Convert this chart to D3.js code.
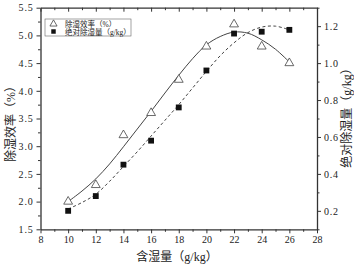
<!DOCTYPE html>
<html>
<head>
<meta charset="utf-8">
<script src="https://cdn.jsdelivr.net/npm/d3@7"></script>
<style>
  body { margin: 0; background: #fff; }
  svg text { font-family: "Liberation Serif", "DejaVu Serif", "Noto Sans CJK SC", serif; fill: #222; }
</style>
</head>
<body>
<div id="container"></div>
<script>
// measured points
const moisture = [10, 12, 14, 16, 18, 20, 22, 24, 26];
const efficiency = [2.0, 2.3, 3.2, 3.6, 4.2, 4.8, 5.2, 4.8, 4.5];
const absRemoval = [0.2, 0.28, 0.45, 0.58, 0.76, 0.96, 1.16, 1.17, 1.18];

// fitted curves
const fitX = [10, 11, 12, 13, 14, 15, 16, 17, 18, 19, 20, 21, 22, 23, 24, 25, 26];
const fitEff = [2.0, 2.19, 2.41, 2.68, 2.99, 3.31, 3.63, 3.96, 4.28, 4.58, 4.83, 4.98, 5.06, 5.04, 4.92, 4.75, 4.52];
const fitAbs = [0.21, 0.245, 0.29, 0.36, 0.44, 0.52, 0.605, 0.69, 0.775, 0.865, 0.955, 1.04, 1.11, 1.165, 1.195, 1.20, 1.18];

const xTicks = [8, 10, 12, 14, 16, 18, 20, 22, 24, 26, 28];
const yLeftTicks = [1.5, 2.0, 2.5, 3.0, 3.5, 4.0, 4.5, 5.0, 5.5];
const yRightTicks = [0.2, 0.4, 0.6, 0.8, 1.0, 1.2];

const legendLabels = ["除湿效率（%）", "绝对除湿量（g/kg）"];
const xTitle = "含湿量（g/kg）";
const yLeftTitle = "除湿效率（%）";
const yRightTitle = "绝对除湿量（g/kg）";

const W = 354, H = 265;
const m = {left: 40.5, right: 37, top: 7.7, bottom: 35.7};

const svg = d3.select("#container").append("svg")
    .attr("width", W)
    .attr("height", H);

var x = d3.scaleLinear().domain([8, 28]).range([m.left, W - m.right]);
var yL = d3.scaleLinear().domain([1.5, 5.5]).range([H - m.bottom, m.top]);
var yR = d3.scaleLinear().domain([0.1, 1.3]).range([H - m.bottom, m.top]);

const axisCol = "#333";

function styleAxis(g) {
    g.select(".domain").attr("stroke", axisCol).attr("stroke-width", 1.3);
    g.selectAll(".tick line").attr("stroke", axisCol);
    g.selectAll("text").attr("font-size", 10).attr("fill", "#333");
}

// minor ticks
function minor(g, axis) {
    g.call(axis);
    g.select(".domain").remove();
    g.selectAll("text").remove();
    g.selectAll("line").attr("stroke", axisCol);
}

var xMinor = d3.range(9, 28, 2);
var yLMinor = d3.range(1.75, 5.5, 0.5);
var yRMinor = d3.range(0.1, 1.31, 0.2);

svg.append("g").attr("transform", `translate(0,${H - m.bottom})`)
    .call(g => minor(g, d3.axisBottom(x).tickValues(xMinor).tickSize(2.5)));
svg.append("g").attr("transform", `translate(0,${m.top})`)
    .call(g => minor(g, d3.axisBottom(x).tickValues(xMinor).tickSize(2.5)));
svg.append("g").attr("transform", `translate(${m.left},0)`)
    .call(g => minor(g, d3.axisLeft(yL).tickValues(yLMinor).tickSize(2.5)));
svg.append("g").attr("transform", `translate(${W - m.right},0)`)
    .call(g => minor(g, d3.axisRight(yR).tickValues(yRMinor).tickSize(2.5)));

svg.append("g").attr("transform", `translate(0,${H - m.bottom})`)
    .call(d3.axisBottom(x).tickValues(xTicks).tickSize(4).tickSizeOuter(0).tickPadding(3))
    .call(styleAxis);

var topAxis = svg.append("g").attr("transform", `translate(0,${m.top})`)
    .call(d3.axisBottom(x).tickValues(xTicks).tickSize(4).tickSizeOuter(0))
    .call(styleAxis);
topAxis.selectAll("text").remove();

svg.append("g").attr("transform", `translate(${m.left},0)`)
    .call(d3.axisLeft(yL).tickValues(yLeftTicks).tickSize(4).tickSizeOuter(0).tickPadding(3).tickFormat(d3.format(".1f")))
    .call(styleAxis)
    .selectAll("text").attr("letter-spacing", 0.8);

svg.append("g").attr("transform", `translate(${W - m.right},0)`)
    .call(d3.axisRight(yR).tickValues(yRightTicks).tickSize(4).tickSizeOuter(0).tickPadding(3).tickFormat(d3.format(".1f")))
    .call(styleAxis)
    .selectAll("text").attr("letter-spacing", 0.8);

// fitted curves
svg.append("path")
    .datum(fitX.map((d, i) => [d, fitEff[i]]))
    .attr("fill", "none")
    .attr("stroke", "#444")
    .attr("stroke-width", 1)
    .attr("d", d3.line().curve(d3.curveCatmullRom).x(d => x(d[0])).y(d => yL(d[1])));

svg.append("path")
    .datum(fitX.map((d, i) => [d, fitAbs[i]]))
    .attr("fill", "none")
    .attr("stroke", "#444")
    .attr("stroke-width", 1)
    .attr("stroke-dasharray", "3,2.5")
    .attr("d", d3.line().curve(d3.curveCatmullRom).x(d => x(d[0])).y(d => yR(d[1])));

var tri = d3.symbol().type(d3.symbolTriangle).size(34);
var sq = d3.symbol().type(d3.symbolSquare).size(34);

svg.selectAll(".tri").data(moisture).join("path")
    .attr("class", "tri")
    .attr("d", tri)
    .attr("transform", (d, i) => `translate(${x(d)},${yL(efficiency[i])})`)
    .attr("fill", "#fff")
    .attr("stroke", "#444")
    .attr("stroke-width", 0.8);

svg.selectAll(".sq").data(moisture).join("path")
    .attr("class", "sq")
    .attr("d", sq)
    .attr("transform", (d, i) => `translate(${x(d)},${yR(absRemoval[i])})`)
    .attr("fill", "#111");

// legend
var lg = svg.append("g").attr("transform", "translate(45,19)");
lg.append("rect").attr("width", 86).attr("height", 17)
    .attr("fill", "#fff").attr("stroke", "#666").attr("stroke-width", 0.6);
lg.append("path").attr("d", d3.symbol().type(d3.symbolTriangle).size(22))
    .attr("transform", "translate(8.5,5)").attr("fill", "#fff").attr("stroke", "#444").attr("stroke-width", 0.8);
lg.append("path").attr("d", d3.symbol().type(d3.symbolSquare).size(20))
    .attr("transform", "translate(8.5,12.5)").attr("fill", "#111");
legendLabels.forEach((t, i) => {
    lg.append("text").attr("x", 20).attr("y", 7.8 + i * 7.7)
        .attr("font-size", 7.5).text(t);
});

// axis titles
svg.append("text")
    .attr("x", 177).attr("y", 261)
    .attr("text-anchor", "middle").attr("font-size", 12)
    .text(xTitle);

svg.append("text")
    .attr("transform", "translate(14.5,121) rotate(-90)")
    .attr("text-anchor", "middle").attr("font-size", 12)
    .text(yLeftTitle);

svg.append("text")
    .attr("transform", "translate(350.5,115) rotate(-90)")
    .attr("text-anchor", "middle").attr("font-size", 12)
    .text(yRightTitle);
</script>
</body>
</html>
